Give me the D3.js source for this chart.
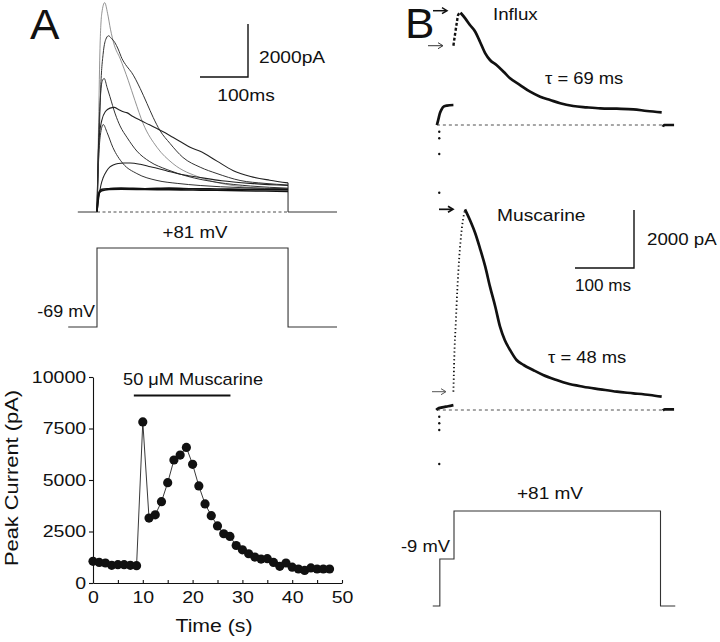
<!DOCTYPE html>
<html><head><meta charset="utf-8">
<script src="https://cdn.jsdelivr.net/npm/d3@7"></script>
<style>
body{margin:0;background:#fff}
svg{display:block;background:#fff}
text{font-family:"Liberation Sans",Arial,Helvetica,sans-serif;fill:#111}
</style>
</head><body>
<svg id="c" width="720" height="642"></svg>
<script>
// ---------------- DATA ----------------
// Panel A, current traces: [time ms, current pA]
const traceA1 = [[0,0],[3,3000],[6,6000],[10,7500],[16,7900],[22,7500],[28,6900],[36,6300],[48,5800],[65,4970],[79,4210],[96,3340],[125,2440],[158,1830],[215,1300],[283,1000],[340,900],[398,860]];
const traceA2 = [[0,0],[4,2500],[8,4800],[13,6000],[18,6500],[24,6650],[30,6550],[37,6400],[44,6150],[52,5790],[62,5500],[72,5270],[90,4660],[104,4100],[117,3570],[131,3080],[152,2590],[179,2060],[215,1690],[250,1450],[298,1190],[350,1080],[398,1020]];
const traceA3 = [[0,0],[3,2500],[7,4300],[11,4950],[15,5040],[21,4700],[27,4350],[38,3700],[48,3250],[63,2800],[83,2300],[110,1900],[146,1600],[188,1350],[250,1120],[320,980],[398,900]];
const traceA4 = [[0,0],[2,1800],[5,2900],[10,3460],[18,3800],[27,3920],[36,3950],[44,3880],[55,3780],[62,3750],[75,3600],[90,3460],[108,3300],[125,3150],[142,2990],[158,2820],[176,2630],[194,2440],[215,2290],[250,1920],[283,1570],[320,1340],[360,1200],[398,1100]];
const traceA5 = [[0,0],[3,1800],[7,2900],[13,3300],[21,3000],[33,2440],[54,1830],[83,1450],[125,1190],[167,1080],[215,1000],[300,920],[398,880]];
const traceA6 = [[0,0],[3,430],[8,1000],[13,1300],[20,1550],[27,1700],[35,1780],[44,1830],[56,1850],[69,1850],[90,1800],[108,1720],[125,1650],[146,1550],[167,1450],[190,1370],[215,1300],[260,1180],[320,1080],[398,1000]];
const traceA7 = [[0,0],[2,500],[5,780],[10,860],[25,880],[50,900],[100,880],[150,900],[200,880],[250,870],[300,860],[350,850],[398,840]];
const traceA8 = [[0,0],[2,450],[5,720],[10,800],[25,850],[50,860],[100,850],[150,840],[200,830],[250,820],[300,800],[350,790],[398,780]];
const tracesA = [traceA1, traceA2, traceA3, traceA4, traceA5, traceA6, traceA7, traceA8];
const baselineA = [-40, 0, 398, 500];          // ms: start, step on, step off, end
const protocolA = [[-60,-69],[0,-69],[0,81],[398,81],[398,-69],[500,-69]]; // [ms, mV]
const scaleBarA = [100, 2000];                  // ms, pA

// Panel A, peak current vs time
const timeS = [0,1.25,2.5,3.75,5,6.25,7.5,8.75,10,11.25,12.5,13.75,15,16.25,17.5,18.75,20,21.25,22.5,23.75,25,26.25,27.5,28.75,30,31.25,32.5,33.75,35,36.25,37.5,38.75,40,41.25,42.5,43.75,45,46.25,47.5];
const peakPA = [1050,1000,970,860,890,890,860,840,7820,3150,3310,3950,4870,5970,6210,6580,5760,4710,3840,3270,2770,2390,2260,1820,1610,1420,1260,1160,1180,1000,810,970,770,680,610,730,680,680,680];
const yTicks = [0,2500,5000,7500,10000];
const xTicks = [0,5,10,15,20,25,30,35,40,45,50];
const xTickLabels = [0,10,20,30,40,50];
const muscarineBar = [8.2, 27.6];  // s

// Panel B: [ms, pA]
const influxPre   = [[-29,0],[-27,150],[-24,400],[-21,540],[-17,640],[-12,670],[-1,690]];
const influxRise  = [[-1,2734],[2,3162],[5,3562],[7,3793],[11,3872]];
const influxDecay = [[11,3872],[19,3679],[27,3448],[36,3217],[44,2872],[53,2471],[61,2241],[72,2069],[84,1838],[95,1610],[112,1379],[129,1148],[146,976],[163,862],[180,748],[202,655],[225,610],[248,575],[276,562],[304,541],[327,483],[352,438]];
const influxPost  = [[354,-60],[356,0],[373,0]];
const influxCap   = [[-25,-231],[-25,-459],[-25,-1000],[-25,-2335]];

const muscPre   = [[-30,0],[-28,40],[-20,90],[-10,130],[-1,170]];
const muscRise  = [[-1,631],[0.5,1838],[3,2990],[5.6,4138],[9,5286],[13,6207],[18.6,6920]];
const muscDecay = [[18.6,6920],[27,6552],[36,6094],[44,5576],[53,4941],[61,4252],[70,3562],[78,2872],[86,2414],[95,2069],[106,1724],[118,1552],[134,1379],[151,1207],[174,1034],[191,920],[219,803],[248,714],[276,631],[304,576],[332,517],[352,459]];
const muscPost  = [[354,-20],[357,20],[373,20]];
const muscCap   = [[-25,-231],[-25,-459],[-25,-690],[-25,-1862]];

const baselineB = [-29, 355];
const protocolB = [[-36,-97],[-24,-97],[-24,-9],[0,-9],[0,81],[350,81],[350,-97],[375,-97]];
const scaleBarB = [100, 2000];

// ---------------- SCALES ----------------
const svg = d3.select('#c');
const xA = d3.scaleLinear().domain([0,400]).range([97,289]);
const yA = d3.scaleLinear().domain([0,2000]).range([212,159]);
const vA = d3.scaleLinear().domain([-69,81]).range([327,248]);
const xT = d3.scaleLinear().domain([0,50]).range([93,342]);
const yP = d3.scaleLinear().domain([0,10000]).range([583,377]);
const xB = d3.scaleLinear().domain([0,350]).range([454,660.5]);
const yI = d3.scaleLinear().domain([0,2000]).range([125,67]);
const yM = d3.scaleLinear().domain([0,2000]).range([410,352]);
const vB = d3.scaleLinear().domain([-9,81]).range([559,511]);

const SX = 1.17;
function txt(s, x, y, size, anchor, sx, rot){
  sx = sx===undefined ? SX : sx;
  return svg.append('text')
    .attr('transform', `translate(${x},${y})` + (rot ? ` rotate(${rot})` : '') + ` scale(${sx},1)`)
    .attr('font-size', size).attr('text-anchor', anchor || 'start').text(s);
}
function seg(x1,y1,x2,y2,w,col,dash){
  const l = svg.append('line').attr('x1',x1).attr('y1',y1).attr('x2',x2).attr('y2',y2)
    .attr('stroke', col||'#111').attr('stroke-width', w||1);
  if (dash) l.attr('stroke-dasharray', dash);
  return l;
}
function arrow(xEnd, y, len, w, col){
  seg(xEnd-len, y, xEnd-1, y, w, col);
  svg.append('path').attr('d', `M${xEnd-5},${y-3}L${xEnd},${y}L${xEnd-5},${y+3}`)
    .attr('fill','none').attr('stroke', col).attr('stroke-width', w);
}

// ---------------- PANEL A : traces ----------------
txt('A', 30, 39, 42, 'start', 1.05);
const lineA = d3.line().x(d=>xA(d[0])).y(d=>yA(d[1])).curve(d3.curveMonotoneX);
const trW = [0.8,1,1,1.1,1,1.1,1.6,1.6];
const trC = ['#777','#333','#333','#222','#333','#222','#111','#111'];
tracesA.forEach((t,i)=>{
  svg.append('path').attr('d', lineA(t)).attr('fill','none')
    .attr('stroke', trC[i]).attr('stroke-width', trW[i]);
});
// return to baseline at step off
const lastMax = d3.max(tracesA, t=>t[t.length-1][1]);
seg(xA(baselineA[2]), yA(lastMax), xA(baselineA[2]), yA(0), 1, '#222');
seg(xA(baselineA[0]), yA(0), xA(baselineA[1]), yA(0), 1, '#333');
seg(xA(baselineA[2]), yA(0), xA(baselineA[3]), yA(0), 1, '#333');
seg(xA(baselineA[1]), yA(0), xA(baselineA[2]), yA(0), 0.8, '#222', '3,2.5');

// scale bar A
{
  const cx = 248, cy = 77;
  const w = xA(scaleBarA[0]) - xA(0), h = yA(0) - yA(scaleBarA[1]);
  svg.append('path').attr('d', `M${cx-w},${cy}H${cx}V${cy-h}`).attr('fill','none').attr('stroke','#111').attr('stroke-width',1.4);
  txt(scaleBarA[1]+'pA', 259, 63, 16, 'start', 1.2);
  txt(scaleBarA[0]+'ms', 246, 101, 16, 'middle', 1.2);
}

// voltage protocol A
const vlineA = d3.line().x(d=>xA(d[0])).y(d=>vA(d[1]));
svg.append('path').attr('d', vlineA(protocolA)).attr('fill','none').attr('stroke','#333').attr('stroke-width',1.1);
txt('+81 mV', 195, 238, 16, 'middle', 1.17);
txt('-69 mV', 95, 317, 16, 'end', 1.12);

// ---------------- PANEL A : peak current plot ----------------
const gx = svg.append('g').attr('transform', `translate(0,${yP(0)})`)
  .call(d3.axisBottom(xT).tickValues(xTicks).tickSizeInner(-3).tickSizeOuter(0).tickPadding(8)
    .tickFormat(d => xTickLabels.includes(d) ? String(d) : ''));
const gy = svg.append('g').attr('transform', `translate(${xT(0)},0)`)
  .call(d3.axisLeft(yP).tickValues(yTicks).tickSizeInner(4).tickSizeOuter(0).tickPadding(2)
    .tickFormat(d => String(d)));
[gx, gy].forEach(g=>{
  g.selectAll('path.domain').attr('stroke','#111').attr('stroke-width',1.1);
  g.selectAll('line').attr('stroke','#111').attr('stroke-width',1.1);
  g.selectAll('text').attr('font-size',17).attr('fill','#111')
    .attr('font-family','"Liberation Sans",Arial,sans-serif').attr('transform','scale(1.15,1)');
});
txt('Time (s)', 214, 632, 18.5, 'middle', 1.15);
txt('Peak Current (pA)', 18, 478, 19, 'middle', 1.15, -90);

const pts = timeS.map((t,i)=>[t, peakPA[i]]);
svg.append('path').attr('d', d3.line().x(d=>xT(d[0])).y(d=>yP(d[1]))(pts))
  .attr('fill','none').attr('stroke','#222').attr('stroke-width',0.9);
svg.selectAll('circle.pk').data(pts).enter().append('circle').attr('class','pk')
  .attr('cx', d=>xT(d[0])).attr('cy', d=>yP(d[1])).attr('r', 4.6).attr('fill','#111');
seg(xT(muscarineBar[0]), yP(9100), xT(muscarineBar[1]), yP(9100), 2, '#111');
txt('50 μM Muscarine', 123, 385, 16, 'start', 1.14);

// ---------------- PANEL B ----------------
txt('B', 405, 38, 42, 'start', 1.05);
function drawTrace(y, pre, rise, decay, post, cap, riseDash){
  const ln = d3.line().x(d=>xB(d[0])).y(d=>y(d[1])).curve(d3.curveMonotoneX);
  [pre, decay, post].forEach(a=>{
    svg.append('path').attr('d', ln(a)).attr('fill','none').attr('stroke','#111')
      .attr('stroke-width', 2.7).attr('stroke-linejoin','round').attr('stroke-linecap','butt');
  });
  svg.append('path').attr('d', ln(rise)).attr('fill','none').attr('stroke','#111')
    .attr('stroke-width', riseDash[0]).attr('stroke-dasharray', riseDash[1]);
  cap.forEach(d=>svg.append('circle').attr('cx', xB(d[0])).attr('cy', y(d[1])).attr('r',1.2).attr('fill','#111'));
  seg(xB(baselineB[0]), y(0), xB(baselineB[1]), y(0), 0.8, '#222', '3,3');
}
drawTrace(yI, influxPre, influxRise, influxDecay, influxPost, influxCap, [2.4,'3,2']);
drawTrace(yM, muscPre, muscRise, muscDecay, muscPost, muscCap, [1.8,'1.3,2.6']);

// arrows marking the initial and peak current
const influxPeak = d3.max(influxDecay, d=>d[1]);
const muscPeak = d3.max(muscDecay, d=>d[1]);
arrow(xB(0)-7, yI(influxPeak)-2, 14, 1.5, '#111');
arrow(xB(0)-11, yI(influxRise[0][1]), 15, 1, '#333');
arrow(xB(0)-1, yM(muscPeak), 14, 1.7, '#111');
arrow(xB(0)-8, yM(muscRise[0][1]), 14, 1, '#555');

txt('Influx', 493, 20, 16, 'start', 1.17);
txt('τ = 69 ms', 545, 84, 16, 'start', 1.15);
txt('Muscarine', 497, 221, 16, 'start', 1.2);
txt('τ = 48 ms', 548, 363, 16, 'start', 1.15);

// scale bar B
{
  const cx = 634, cy = 268;
  const w = xB(scaleBarB[0]) - xB(0), h = yM(0) - yM(scaleBarB[1]);
  svg.append('path').attr('d', `M${cx-w},${cy}H${cx}V${cy-h}`).attr('fill','none').attr('stroke','#111').attr('stroke-width',1.4);
  txt(scaleBarB[1]+' pA', 647, 245, 16, 'start', 1.17);
  txt(scaleBarB[0]+' ms', 575, 291, 16, 'start', 1.07);
}

// voltage protocol B
const vlineB = d3.line().x(d=>xB(d[0])).y(d=>vB(d[1]));
svg.append('path').attr('d', vlineB(protocolB)).attr('fill','none').attr('stroke','#333').attr('stroke-width',1.1);
txt('+81 mV', 550, 499, 16, 'middle', 1.19);
txt('-9 mV', 450, 552, 16, 'end', 1.15);
</script>
</body></html>
